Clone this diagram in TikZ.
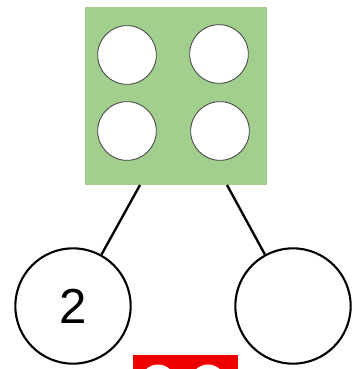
\documentclass[tikz,border=0pt]{standalone}
\usepackage{fontspec}
\setmainfont{Liberation Sans}
\usetikzlibrary{positioning}
\definecolor{boxgreen}{HTML}{A2CF8D}
\definecolor{boxred}{HTML}{EE0000}

\begin{document}
\begin{tikzpicture}[
  x=0.03cm, y=-0.03cm,
  box/.style={
    rectangle, inner sep=0pt, fill=boxgreen,
    minimum width=5.46cm, minimum height=5.34cm
  },
  hole/.style={circle, inner sep=0pt, draw=black!75, line width=0.7pt,
    fill=white, minimum size=1.76cm},
  part/.style={circle, inner sep=0pt, draw=black, line width=1.8pt,
    fill=white, minimum size=3.46cm, font=\fontsize{42}{44}\selectfont},
  link/.style={line width=2pt, black}
]
  \useasboundingbox (0,0) rectangle (354,369);
  \clip (0,0) rectangle (354,369);

  \node[box] (whole) at (176,96) {};
  \node[hole] (h1) at (127,55) {};
  \node[hole] (h2) at (219,54) {};
  \node[hole] (h3) at (127,131) {};
  \node[hole] (h4) at (220,131) {};

  \node[part] (two) at (73,306) {2};
  \node[part] (blank) at (293,306) {};

  \coordinate (lfoot) at (140,185);
  \coordinate (rfoot) at (227,185);
  \draw[link] (lfoot) -- (two);
  \draw[link] (rfoot) -- (blank);

  % red card, cut off at the bottom
  \node[rectangle, inner sep=0pt, fill=boxred, minimum width=3.15cm,
    minimum height=2cm, anchor=north west] (red) at (133,355) {};
  \node[circle, inner sep=0pt, fill=white, minimum size=1.05cm] (r1) at (158,382) {};
  \node[circle, inner sep=0pt, fill=white, minimum size=1.05cm] (r2) at (208,382) {};
\end{tikzpicture}
\end{document}
